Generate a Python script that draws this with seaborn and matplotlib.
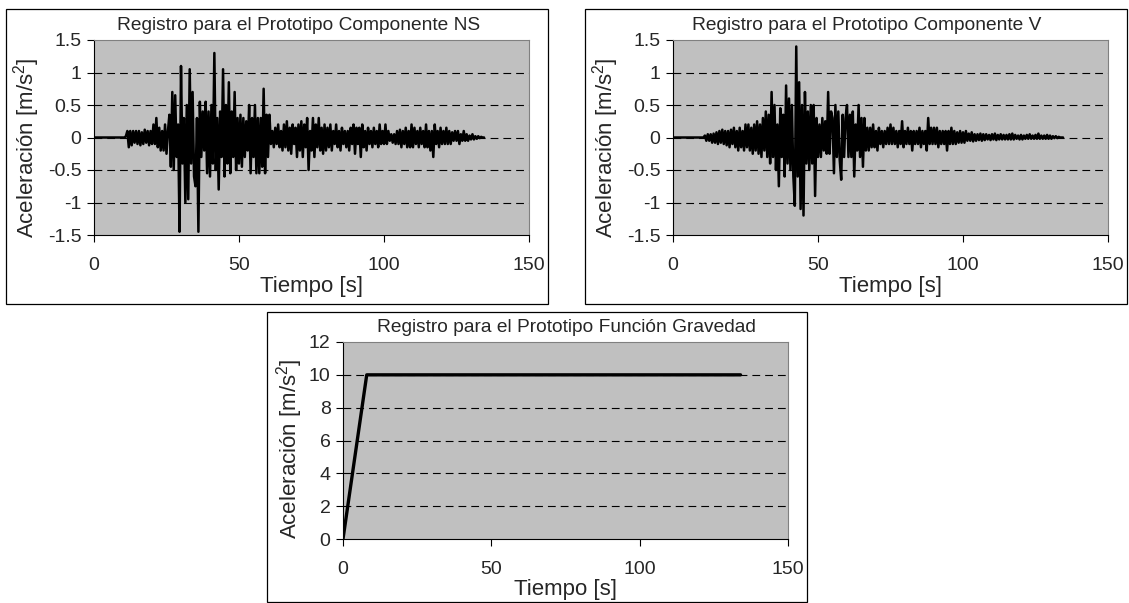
import numpy as np
import seaborn as sns
import matplotlib.pyplot as plt
from matplotlib.patches import Rectangle

# ---------------------------------------------------------
# Data (acceleration in m/s^2, every 0.5 s)
# ---------------------------------------------------------
dt = 0.5

acc_ns = [
    0, 0, 0, 0, 0, 0, 0, 0, 0, 0,
    0, 0, 0, 0, 0, 0, 0, 0, 0, 0,
    0, 0, 0.02, 0.1, -0.15, 0.1, -0.12, 0.1, -0.08, 0.1,
    -0.1, 0.1, -0.12, 0.08, -0.1, 0.12, -0.08, 0.1, -0.12, 0.1,
    -0.1, 0.2, -0.1, 0.3, -0.15, 0.15, -0.2, 0.1, -0.2, 0.2,
    -0.25, 0.1, 0.35, -0.45, 0.7, -0.5, 0.65, -0.3, 0.2, -1.45,
    1.1, -0.4, 0.3, -1.0, 0.5, -0.95, 1.05, -0.4, 0.7, -0.6,
    -0.75, 0.3, -1.45, 0.55, -0.3, 0.4, -0.2, 0.55, -0.55, 0.4,
    -0.6, 0.5, -0.4, 1.3, -0.5, 0.3, -0.8, 0.4, -0.3, 1.05,
    -0.6, 0.5, -0.4, 0.85, -0.55, 0.4, -0.3, 0.7, -0.5, 0.3,
    -0.4, 0.35, -0.45, 0.3, -0.3, 0.25, -0.2, 0.5, -0.55, 0.3,
    -0.3, 0.5, -0.55, 0.3, -0.55, 0.3, -0.45, 0.75, -0.55, 0.35,
    -0.3, 0.35, -0.1, 0.1, -0.15, 0.15, -0.1, 0.2, -0.15, 0.1,
    -0.2, 0.2, -0.15, 0.25, -0.2, 0.15, -0.25, 0.2, -0.1, 0.15,
    -0.3, 0.2, -0.2, 0.25, -0.3, 0.2, -0.15, 0.3, -0.5, 0.1,
    -0.2, 0.3, -0.3, 0.2, -0.15, 0.3, -0.2, 0.15, -0.25, 0.2,
    -0.2, 0.15, -0.15, 0.2, -0.2, 0.1, -0.1, 0.2, -0.15, 0.1,
    -0.2, 0.15, -0.1, 0.1, -0.15, 0.1, -0.2, 0.15, -0.1, 0.2,
    -0.25, 0.15, -0.1, 0.15, -0.3, 0.2, -0.15, 0.1, -0.2, 0.15,
    -0.1, 0.1, -0.15, 0.15, -0.1, 0.1, -0.15, 0.2, -0.1, 0.1,
    -0.1, 0.2, -0.1, 0.1, -0.05, 0.05, -0.08, 0.05, -0.1, 0.1,
    -0.1, 0.12, -0.15, 0.1, -0.1, 0.15, -0.15, 0.1, -0.15, 0.2,
    -0.15, 0.15, -0.1, 0.1, -0.15, 0.15, -0.1, 0.1, -0.15, 0.2,
    -0.15, 0.1, -0.2, 0.1, -0.3, 0.2, -0.1, 0.1, -0.15, 0.15,
    -0.1, 0.1, -0.1, 0.15, -0.1, 0.1, -0.1, 0.08, -0.05, 0.1,
    -0.05, 0.1, -0.1, 0.05, -0.05, 0.1, -0.05, 0.05, -0.05, 0.03,
    -0.03, 0.05, -0.03, 0.02, -0.02, 0.02, -0.01, 0.01, 0, 0,
]

acc_v = [
    0, 0, 0, 0, 0, 0, 0, 0, 0, 0,
    0, 0, 0, 0, 0, 0, 0, 0, 0, 0,
    0, 0, 0.03, -0.05, 0.05, -0.05, 0.05, -0.08, 0.06, -0.08,
    0.08, -0.1, 0.1, -0.08, 0.12, -0.1, 0.1, -0.12, 0.1, -0.15,
    0.12, -0.1, 0.15, -0.15, 0.1, -0.2, 0.15, -0.15, 0.1, -0.2,
    0.2, -0.15, 0.2, -0.2, 0.15, -0.25, 0.2, -0.2, 0.25, -0.25,
    0.2, -0.3, 0.3, -0.2, 0.4, -0.3, 0.35, -0.4, 0.7, -0.3,
    0.5, -0.5, 0.2, -0.75, 0.45, -0.3, 0.35, -0.6, 0.8, -0.4,
    0.6, -0.5, 0.5, -0.6, -1.05, 1.4, -0.6, 0.85, -1.1, 0.5,
    -1.2, 0.7, -0.4, 0.4, -0.5, 0.5, -0.4, 0.5, -0.9, 0.3,
    -0.3, 0.2, -0.3, 0.3, -0.2, 0.25, -0.25, 0.7, -0.25, 0.4,
    0.3, -0.55, 0.5, -0.3, 0.4, -0.35, -0.65, 0.35, -0.3, 0.3,
    0.5, -0.3, 0.35, -0.3, 0.4, -0.6, 0.2, -0.2, 0.5, -0.3,
    0.3, -0.45, 0.3, -0.2, 0.15, -0.2, 0.15, -0.15, 0.2, -0.15,
    0.1, -0.2, 0.15, -0.1, 0.1, -0.15, 0.1, -0.1, 0.15, -0.1,
    0.2, -0.1, 0.15, -0.1, 0.1, -0.15, 0.1, -0.1, 0.25, -0.15,
    0.1, -0.1, 0.15, -0.1, 0.1, -0.2, 0.1, -0.1, 0.1, -0.1,
    0.15, -0.15, 0.1, -0.1, 0.1, -0.2, 0.3, -0.1, 0.15, -0.1,
    0.15, -0.1, 0.15, -0.15, 0.1, -0.1, 0.1, -0.1, 0.1, -0.2,
    0.1, -0.1, 0.15, -0.1, 0.1, -0.1, 0.08, -0.08, 0.1, -0.08,
    0.08, -0.08, 0.1, -0.05, 0.06, -0.05, 0.08, -0.06, 0.05, -0.05,
    0.05, -0.04, 0.06, -0.05, 0.05, -0.04, 0.05, -0.03, 0.04, -0.04,
    0.05, -0.03, 0.06, -0.04, 0.04, -0.03, 0.05, -0.03, 0.04, -0.03,
    0.04, -0.03, 0.05, -0.03, 0.06, -0.03, 0.04, -0.02, 0.03, -0.03,
    0.04, -0.03, 0.03, -0.02, 0.04, -0.02, 0.05, -0.02, 0.03, -0.02,
    0.04, -0.02, 0.06, -0.02, 0.03, -0.02, 0.03, -0.02, 0.04, -0.02,
    0.03, -0.02, 0.02, -0.01, 0.02, -0.01, 0.01, 0, 0, 0,
]

t_grav = [0, 8, 134]
acc_grav = [0, 10, 10]

time_ns = np.arange(len(acc_ns)) * dt
time_v = np.arange(len(acc_v)) * dt

titles = [
    "Registro para el Prototipo Componente NS",
    "Registro para el Prototipo Componente V",
    "Registro para el Prototipo Función Gravedad",
]
xticks = [0, 50, 100, 150]
xtick_labels = ["0", "50", "100", "150"]
yticks_seis = [-1.5, -1, -0.5, 0, 0.5, 1, 1.5]
ytick_labels_seis = ["-1.5", "-1", "-0.5", "0", "0.5", "1", "1.5"]
yticks_grav = [0, 2, 4, 6, 8, 10, 12]
ytick_labels_grav = ["0", "2", "4", "6", "8", "10", "12"]

# ---------------------------------------------------------
# Style
# ---------------------------------------------------------
sns.set_theme(style="white")
plt.rcParams["font.family"] = ["Liberation Sans", "DejaVu Sans"]
plt.rcParams["mathtext.fontset"] = "custom"
plt.rcParams["mathtext.rm"] = "Liberation Sans"
plt.rcParams["axes.unicode_minus"] = False

W, H = 1129, 603
fig = plt.figure(figsize=(W / 100, H / 100), dpi=100)


def px_rect(x0, y0, x1, y1):
    # pixel box (top-left origin) -> figure fraction [left, bottom, width, height]
    return [x0 / W, 1 - y1 / H, (x1 - x0) / W, (y1 - y0) / H]


def style_axes(ax, yticks, ylabels, ylab_xy):
    ax.set_facecolor("#c0c0c0")
    ax.set_xlim(0, 150)
    ax.set_ylim(yticks[0], yticks[-1])
    ax.set_xticks(xticks)
    ax.set_xticklabels(xtick_labels)
    ax.set_yticks(yticks)
    ax.set_yticklabels(ylabels)
    for y in yticks[1:-1]:
        ax.axhline(y, color="black", lw=0.8, ls=(0, (7, 4.5)), zorder=1)
    ax.tick_params(axis="both", direction="out", length=5, width=0.8,
                   color="black", labelsize=14, left=True, bottom=True)
    ax.tick_params(axis="x", pad=11)
    ax.tick_params(axis="y", pad=4)
    for s in ["left", "bottom"]:
        ax.spines[s].set_color("black")
        ax.spines[s].set_linewidth(0.8)
    for s in ["top", "right"]:
        ax.spines[s].set_color("#808080")
        ax.spines[s].set_linewidth(0.8)
    ax.set_xlabel("Tiempo [s]", fontsize=16)
    ax.set_ylabel(r"Aceleración [m/s$^{\mathrm{2}}$]", fontsize=16)
    ax.xaxis.label.set_va("center")
    ax.yaxis.label.set_va("center")
    ax.yaxis.set_label_coords(*ylab_xy)


# panel boxes
for x0, y0, x1, y1 in [(6, 9, 548, 304), (585, 9, 1127, 304), (267, 312, 807, 602)]:
    l, b, w, h = px_rect(x0, y0, x1, y1)
    fig.add_artist(Rectangle((l, b), w, h, transform=fig.transFigure,
                             fill=False, ec="black", lw=0.9))

ax1 = fig.add_axes(px_rect(94, 40, 529, 235))
ax2 = fig.add_axes(px_rect(673, 40, 1108, 235))
ax3 = fig.add_axes(px_rect(343, 342, 788, 539))

sns.lineplot(x=time_ns, y=acc_ns, ax=ax1, color="black", lw=1.8, zorder=3)
sns.lineplot(x=time_v, y=acc_v, ax=ax2, color="black", lw=1.8, zorder=3)
sns.lineplot(x=t_grav, y=acc_grav, ax=ax3, color="black", lw=2.4, zorder=3)

style_axes(ax1, yticks_seis, ytick_labels_seis, (-0.154, 0.45))
style_axes(ax2, yticks_seis, ytick_labels_seis, (-0.154, 0.45))
style_axes(ax3, yticks_grav, ytick_labels_grav, (-0.121, 0.46))
ax1.xaxis.set_label_coords(0.5, -0.265)
ax2.xaxis.set_label_coords(0.5, -0.265)
ax3.xaxis.set_label_coords(0.5, -0.255)

# titles
for text, (x, y) in zip(titles, [(299, 25), (867, 25), (566, 328)]):
    fig.text(x / W, 1 - y / H, text, ha="center", va="center", fontsize=13.8)

fig.savefig("out.png", dpi=100)
